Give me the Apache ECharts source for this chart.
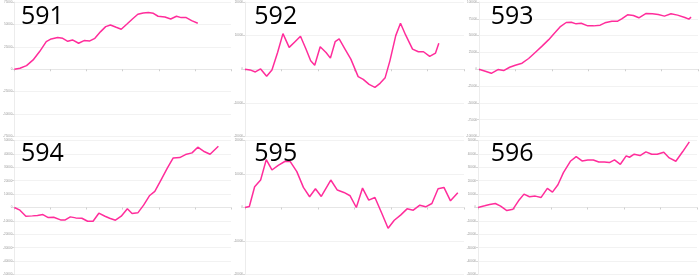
<!DOCTYPE html>
<html><head><meta charset="utf-8">
<script src="https://cdn.jsdelivr.net/npm/echarts@6/dist/echarts.min.js"></script>
<style>html,body{margin:0;padding:0;background:#fff}#c{width:700px;height:276px}</style>
</head><body><div id="c"></div>
<script>
const titles = ["591","592","593","594","595","596"];
const xTicks = {min:0, max:60, interval:10};
const yRanges = [
  {min:-75000,max:75000,interval:25000},
  {min:-20000,max:20000,interval:10000},
  {min:-100000,max:100000,interval:25000},
  {min:-50000,max:50000,interval:10000},
  {min:-20000,max:20000,interval:10000},
  {min:-50000,max:50000,interval:10000}
];
const x591 = [0,1.55,3.37,5.2,7.0,8.84,10.2,12.0,13.4,14.8,16.1,17.8,19.3,20.9,22.3,23.9,25.3,26.6,28.2,29.6,31.2,32.7,34.2,35.7,37.1,38.5,39.8,41.7,43.3,44.9,46.2,47.6,49.1,50.8];
const y591 = [0,1100,4100,10400,19700,30800,33800,35300,34500,31200,32700,29000,32000,31600,34500,42000,47500,49400,46800,44600,50500,56100,61300,62800,63200,62400,59100,58300,56100,59100,57600,57600,54200,51300];
const x592 = [0,1.37,2.83,4.28,5.93,7.38,8.93,10.4,12.1,13.7,15.2,16.7,18.0,19.1,20.6,22.2,23.4,24.7,25.8,27.4,29.0,31.0,32.4,34.0,35.6,37.0,38.4,39.7,41.3,42.6,44.0,45.9,47.5,48.9,50.6,52.2,53.1];
const y592 = [0,-200,-800,100,-2100,-200,5000,10600,6500,8200,9800,6000,2500,1200,6700,5000,3300,8200,9000,6000,3000,-2200,-3000,-4500,-5400,-4200,-2500,2500,10000,13700,10200,6000,5200,5200,3800,4800,7700];
const x593 = [0,1.73,3.37,5.2,6.75,8.4,9.94,11.8,13.6,15.4,17.2,19.1,20.9,22.2,23.9,25.3,26.6,28.0,29.8,31.4,33.2,34.5,36.4,38.0,39.1,40.7,42.3,43.8,45.8,47.5,49.1,50.8,52.6,54.4,56.4,57.5,58.1];
const y593 = [0,-3000,-6000,-500,-2000,3000,6000,9000,16000,25000,34000,44000,55000,63000,69500,70000,67500,68500,64500,64500,65500,69000,71500,71500,75000,81000,80000,76500,83000,82500,81500,79000,82500,80500,77000,74500,77500];
const x594 = [0,1.55,3.19,5.0,6.4,7.9,9.4,10.9,12.8,14.1,15.5,17.0,18.7,20.3,21.8,23.4,25.1,26.4,28.0,29.6,31.3,32.6,34.2,35.8,37.4,38.9,40.6,42.4,44.0,45.8,47.4,49.2,50.8,52.4,54.2,56.5];
const y594 = [0,-2000,-6500,-6250,-6000,-5250,-7500,-7250,-9250,-9250,-7000,-7750,-8000,-10250,-10250,-4250,-6500,-8000,-9500,-6500,-1000,-4500,-4000,1750,8750,12000,20500,29500,37000,37250,39500,40750,45000,42000,39750,45750];
const x595 = [0,1.19,2.64,4.28,5.83,7.38,9.1,11.0,12.4,14.2,16.0,17.7,19.3,20.9,23.5,25.3,27.1,28.8,30.5,32.2,33.9,35.6,37.5,39.2,40.9,42.7,44.4,46.1,47.9,49.5,51.2,52.9,54.5,56.3,58.3];
const y595 = [0,300,6200,8200,14300,11200,12600,13800,13700,10700,6000,3200,5600,3300,8200,5200,4500,3500,0,5800,2200,3000,-1800,-6200,-3800,-2200,-400,-800,700,200,1200,5600,6000,2000,4400];
const x596 = [0,1.82,3.19,4.74,6.2,7.9,9.6,11.1,12.6,14.1,15.7,17.3,19.0,20.4,21.9,23.4,25.3,26.9,28.5,30.1,31.6,33.1,34.6,36.0,37.4,39.0,40.6,41.5,42.8,44.4,46.0,47.6,49.1,50.9,52.4,54.2,56.1,57.9];
const y596 = [0,1250,2250,3000,1000,-2250,-1250,5000,10000,8000,8500,7500,14250,11500,17000,26000,34500,38000,34750,35500,35500,34000,34000,33500,35500,32250,38500,37500,39750,38750,41500,39750,39750,41250,37000,34500,41750,49000];

const xs = [x591,x592,x593,x594,x595,x596];
const ys = [y591,y592,y593,y594,y595,y596];
const lefts = [11,245,479,12,245,478];
const rights = [469,236,2,469,236,3];
const tops = [2,2,2,140.5,140.5,140.5];
const h = 134.5;

const chart = echarts.init(document.getElementById('c'), null, {renderer:'canvas'});
const grid=[], xAxis=[], yAxis=[], series=[], title=[];
for (let i=0;i<6;i++){
  grid.push({left:lefts[i], right:rights[i], top:tops[i], height:h});
  xAxis.push({type:'value', gridIndex:i, min:xTicks.min, max:xTicks.max, interval:xTicks.interval,
    axisLine:{onZero:true, lineStyle:{color:'#e6e6e6',width:1}},
    axisTick:{show:true,length:2,inside:false,lineStyle:{color:'#cfcfcf'}},
    axisLabel:{show:false}, splitLine:{show:false}});
  yAxis.push({type:'value', gridIndex:i, min:yRanges[i].min, max:yRanges[i].max, interval:yRanges[i].interval,
    axisLine:{show:true, lineStyle:{color:'#ececec'}},
    axisTick:{show:true,length:2,lineStyle:{color:'#d8d8d8'}},
    axisLabel:{show:true, fontSize:3, color:'#999', margin:2, formatter:(v)=>String(v)},
    splitLine:{show:true, lineStyle:{color:'#f2f2f2',width:1}}});
  const d = xs[i].map((x,k)=>[x, ys[i][k]]);
  series.push({type:'line', xAxisIndex:i, yAxisIndex:i, data:d, showSymbol:false, symbol:'none',
    lineStyle:{color:'#ff2d9b', width:1.5}, animation:false});
  const col=i%3, row=Math.floor(i/3);
  title.push({text:titles[i], left:col*233.33+ (col===2?19:16), top:row*138+(row===0?-1:-2),
    textStyle:{fontSize:25, fontWeight:'normal', color:'#000', fontFamily:'Open Sans'}});
}
chart.setOption({animation:false, title, grid, xAxis, yAxis, series});
</script></body></html>
